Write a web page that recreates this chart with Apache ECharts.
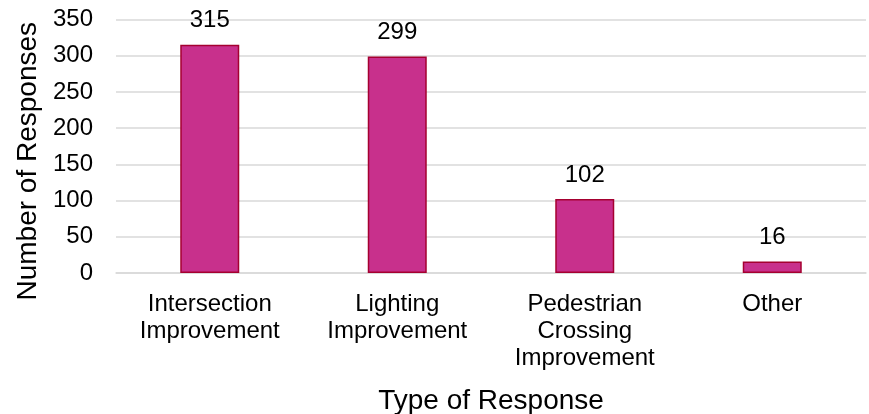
<!DOCTYPE html>
<html>
<head>
<meta charset="utf-8">
<script src="https://cdn.jsdelivr.net/npm/echarts@6/dist/echarts.min.js"></script>
<style>html,body{margin:0;padding:0;background:#fff}#c{width:869px;height:414px}</style>
</head>
<body>
<div id="c"></div>
<script>
const categories = ['Intersection\nImprovement', 'Lighting\nImprovement', 'Pedestrian\nCrossing\nImprovement', 'Other'];
const responses = [315, 299, 102, 16];
const yTicks = { min: 0, max: 350, interval: 50 };

const font = '"Liberation Sans", Arial, sans-serif';
const chart = echarts.init(document.getElementById('c'), null, { renderer: 'canvas' });
chart.setOption({
  animation: false,
  backgroundColor: '#fff',
  grid: { left: 116, right: 3, top: 19.5, bottom: 141, containLabel: false, outerBoundsMode: 'none' },
  xAxis: {
    type: 'category',
    data: categories,
    name: 'Type of Response',
    nameLocation: 'middle',
    nameGap: 114,
    nameTextStyle: { fontFamily: font, fontSize: 28, color: '#000' },
    axisLine: { show: true, lineStyle: { color: '#d9d9d9', width: 1.5 } },
    axisTick: { show: false },
    axisLabel: { fontFamily: font, fontSize: 24, color: '#000', margin: 18, lineHeight: 27, interval: 0 }
  },
  yAxis: {
    type: 'value',
    min: yTicks.min, max: yTicks.max, interval: yTicks.interval,
    name: 'Number of Responses',
    nameLocation: 'middle',
    nameGap: 71,
    nameRotate: 90,
    nameTextStyle: { fontFamily: font, fontSize: 28, color: '#000', padding: [0, 30, 0, 0] },
    axisLine: { show: false },
    axisTick: { show: false },
    axisLabel: { fontFamily: font, fontSize: 24, color: '#000', margin: 23 },
    splitLine: { lineStyle: { color: '#d9d9d9', width: 1.5 } }
  },
  series: [{
    type: 'bar',
    data: responses,
    barWidth: 59,
    itemStyle: { color: '#C8308C', borderColor: '#A50030', borderWidth: 1.5 },
    label: { show: true, position: 'top', distance: 12, fontFamily: font, fontSize: 24, color: '#000' }
  }]
});
</script>
</body>
</html>
